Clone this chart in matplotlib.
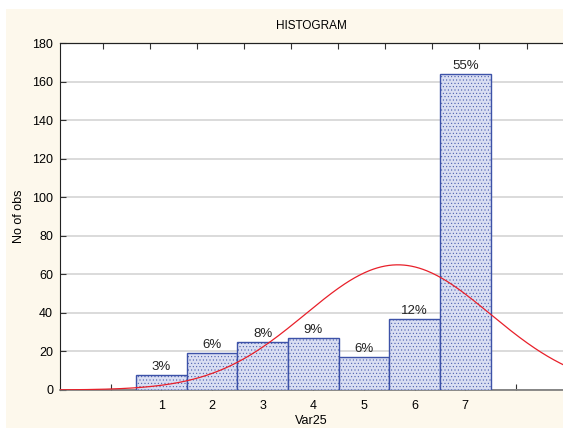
import matplotlib.pyplot as plt
from matplotlib.patches import Rectangle
import numpy as np

plt.rcParams['font.family'] = ['Liberation Sans', 'DejaVu Sans']
plt.rcParams['hatch.linewidth'] = 0.35

# data
categories = [1, 2, 3, 4, 5, 6, 7]
counts = [8, 19, 25, 27, 17, 37, 164]
pct_labels = ['3%', '6%', '8%', '9%', '6%', '12%', '55%']

cats = np.array(categories, dtype=float)
vals = np.array(counts, dtype=float)
n = vals.sum()
mean = (cats * vals).sum() / n
sd = np.sqrt(((cats - mean) ** 2 * vals).sum() / (n - 1))

fig = plt.figure(figsize=(5.63, 4.28), dpi=100)
fig.patch.set_facecolor('white')
# cream panel behind the chart
fig.patches.append(Rectangle((6 / 563, 0), 1, 1 - 9 / 428, transform=fig.transFigure,
                             facecolor='#fdf8ec', edgecolor='none', zorder=-10))

ax = fig.add_axes([60 / 563, 1 - 390 / 428, 1 - 60 / 563, (390 - 43) / 428])
ax.set_facecolor('white')

ax.bar(cats, vals, width=1.0, facecolor='#d9def2', edgecolor='#3d52a8',
       linewidth=1.0, hatch='.....', zorder=3)
for c, v, lab in zip(cats, vals, pct_labels):
    ax.text(c, v + 1.0, lab, ha='center', va='bottom', fontsize=9.5, color='#222222', zorder=5)

xs = np.linspace(-1, 9, 400)
ys = n * 1.0 * np.exp(-0.5 * ((xs - mean) / sd) ** 2) / (sd * np.sqrt(2 * np.pi))
ax.plot(xs, ys, color='#e8202a', linewidth=0.9, zorder=4)

ax.set_xlim(-1.0, 8.93)
ax.set_ylim(0, 180)
ax.set_yticks(np.arange(0, 181, 20))
ax.set_xticks(np.arange(0, 9))
ax.set_xticklabels([''] + [str(c) for c in categories] + [''])
ax.tick_params(axis='x', direction='in', length=4, labelsize=9, pad=7, color='#333333')
ax.tick_params(axis='y', direction='in', length=4, labelsize=9, pad=5, color='#333333')
ax.yaxis.grid(True, color='#d4d4d4', linewidth=1.2, zorder=0)
ax.set_axisbelow(True)

ax.spines['right'].set_visible(False)
ax.spines['left'].set_color('#222222')
ax.spines['top'].set_color('#222222')
ax.spines['bottom'].set_color('#777777')
ax.spines['bottom'].set_linewidth(1.2)

top = ax.secondary_xaxis('top')
top.set_xticks(np.arange(-0.16, 8.9, 0.93))
top.tick_params(direction='in', length=4, labeltop=False, color='#333333')

ax.set_ylabel('No of obs', fontsize=9, labelpad=5)
ax.set_xlabel('Var25', fontsize=9, labelpad=2)
ax.set_title('HISTOGRAM', fontsize=8.5, pad=10)

fig.savefig('out.png', dpi=100, facecolor=fig.get_facecolor())
